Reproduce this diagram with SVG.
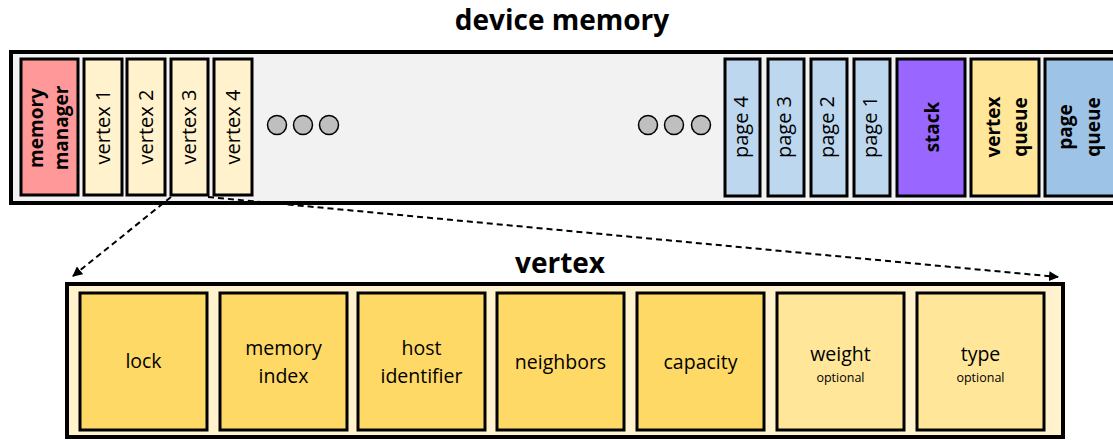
<svg xmlns="http://www.w3.org/2000/svg" width="1113" height="440" viewBox="0 0 1113 440">
<defs>
<marker id="arr" viewBox="0 0 10 10" refX="9" refY="5" markerWidth="5" markerHeight="5" orient="auto" markerUnits="strokeWidth">
<path d="M0,0 L10,5 L0,10 z" fill="#000"/>
</marker>
<style>
text{font-family:"Open Sans","Liberation Sans",sans-serif;fill:#000}
.title{font-size:28px;font-weight:bold;text-anchor:middle}
.cell{stroke:#000;stroke-width:3}
.v{font-size:20px;text-anchor:middle}
.b{font-size:19px;font-weight:bold;text-anchor:middle}
.f{font-size:19.5px;text-anchor:middle}
.o{font-size:12.5px;text-anchor:middle}
.dot{fill:#BFBFBF;stroke:#000;stroke-width:1.5}
.conn{stroke:#000;stroke-width:2;stroke-dasharray:6 4;fill:none}
</style>
</defs>
<rect width="1113" height="440" fill="#fff"/>
<text class="title" x="562" y="30">device memory</text>
<g id="device-memory">
<rect x="11" y="52" width="1120" height="151" fill="#F2F2F2" stroke="#000" stroke-width="4"/>
</g>
<g id="memory-manager">
<rect class="cell" x="21" y="59" width="57" height="136" fill="#FF9999"/>
<text class="b" transform="translate(49,128) rotate(-90)"><tspan x="0" y="-6">memory</tspan><tspan x="0" y="19">manager</tspan></text>
</g>
<g id="vertex1"><rect class="cell" x="84" y="59" width="38" height="136" fill="#FFF2CC"/><text class="v" transform="translate(110,127) rotate(-90)">vertex 1</text></g>
<g id="vertex2"><rect class="cell" x="127" y="59" width="38" height="136" fill="#FFF2CC"/><text class="v" transform="translate(153,127) rotate(-90)">vertex 2</text></g>
<g id="vertex3"><rect class="cell" x="171" y="59" width="37" height="136" fill="#FFF2CC"/><text class="v" transform="translate(196,127) rotate(-90)">vertex 3</text></g>
<g id="vertex4"><rect class="cell" x="214" y="59" width="38" height="136" fill="#FFF2CC"/><text class="v" transform="translate(240,127) rotate(-90)">vertex 4</text></g>
<g id="dots-left">
<circle class="dot" cx="277" cy="125" r="9.5"/><circle class="dot" cx="303" cy="125" r="9.5"/><circle class="dot" cx="329" cy="125" r="9.5"/>
</g>
<g id="dots-right">
<circle class="dot" cx="648" cy="125" r="9.5"/><circle class="dot" cx="674" cy="125" r="9.5"/><circle class="dot" cx="701" cy="125" r="9.5"/>
</g>
<g id="page4"><rect class="cell" x="725" y="59" width="35" height="137" fill="#BDD7EE"/><text class="v" transform="translate(748,127) rotate(-90)">page 4</text></g>
<g id="page3"><rect class="cell" x="768" y="59" width="36" height="137" fill="#BDD7EE"/><text class="v" transform="translate(791,127) rotate(-90)">page 3</text></g>
<g id="page2"><rect class="cell" x="811" y="59" width="36" height="137" fill="#BDD7EE"/><text class="v" transform="translate(834,127) rotate(-90)">page 2</text></g>
<g id="page1"><rect class="cell" x="854" y="59" width="36" height="137" fill="#BDD7EE"/><text class="v" transform="translate(877,127) rotate(-90)">page 1</text></g>
<g id="stack"><rect class="cell" x="897" y="59" width="68" height="137" fill="#9966FF"/><text class="b" transform="translate(939,127) rotate(-90)">stack</text></g>
<g id="vertex-queue"><rect class="cell" x="971" y="59" width="68" height="137" fill="#FFE699"/><text class="b" transform="translate(1005,127) rotate(-90)"><tspan x="0" y="-5">vertex</tspan><tspan x="0" y="22">queue</tspan></text></g>
<g id="page-queue"><rect class="cell" x="1045" y="59" width="80" height="137" fill="#9DC3E6"/><text class="b" transform="translate(1079,127) rotate(-90)"><tspan x="0" y="-7">page</tspan><tspan x="0" y="21">queue</tspan></text></g>

<text class="title" x="560" y="273">vertex</text>
<g id="vertex-struct">
<rect x="67" y="284" width="996" height="153" fill="#FFF2CC" stroke="#000" stroke-width="4"/>
</g>
<g id="lock"><rect class="cell" x="80" y="293" width="127" height="137" fill="#FFD966"/><text class="f" x="143.5" y="368">lock</text></g>
<g id="memory-index"><rect class="cell" x="220" y="293" width="127" height="137" fill="#FFD966"/><text class="f" x="283.5" y="355">memory</text><text class="f" x="283.5" y="383">index</text></g>
<g id="host-identifier"><rect class="cell" x="358" y="293" width="127" height="137" fill="#FFD966"/><text class="f" x="421.5" y="355">host</text><text class="f" x="421.5" y="383">identifier</text></g>
<g id="neighbors"><rect class="cell" x="497" y="293" width="127" height="137" fill="#FFD966"/><text class="f" x="560.5" y="369">neighbors</text></g>
<g id="capacity"><rect class="cell" x="637" y="293" width="127" height="137" fill="#FFD966"/><text class="f" x="700.5" y="369">capacity</text></g>
<g id="weight"><rect class="cell" x="777" y="293" width="127" height="137" fill="#FFE699"/><text class="f" x="840.5" y="361">weight</text><text class="o" x="840.5" y="382">optional</text></g>
<g id="type"><rect class="cell" x="917" y="293" width="127" height="137" fill="#FFE699"/><text class="f" x="980.5" y="361">type</text><text class="o" x="980.5" y="382">optional</text></g>

<g id="connectors">
<line class="conn" x1="171" y1="197" x2="73" y2="276" marker-end="url(#arr)"/>
<line class="conn" x1="208" y1="197" x2="1058" y2="277" marker-end="url(#arr)"/>
</g>
</svg>
